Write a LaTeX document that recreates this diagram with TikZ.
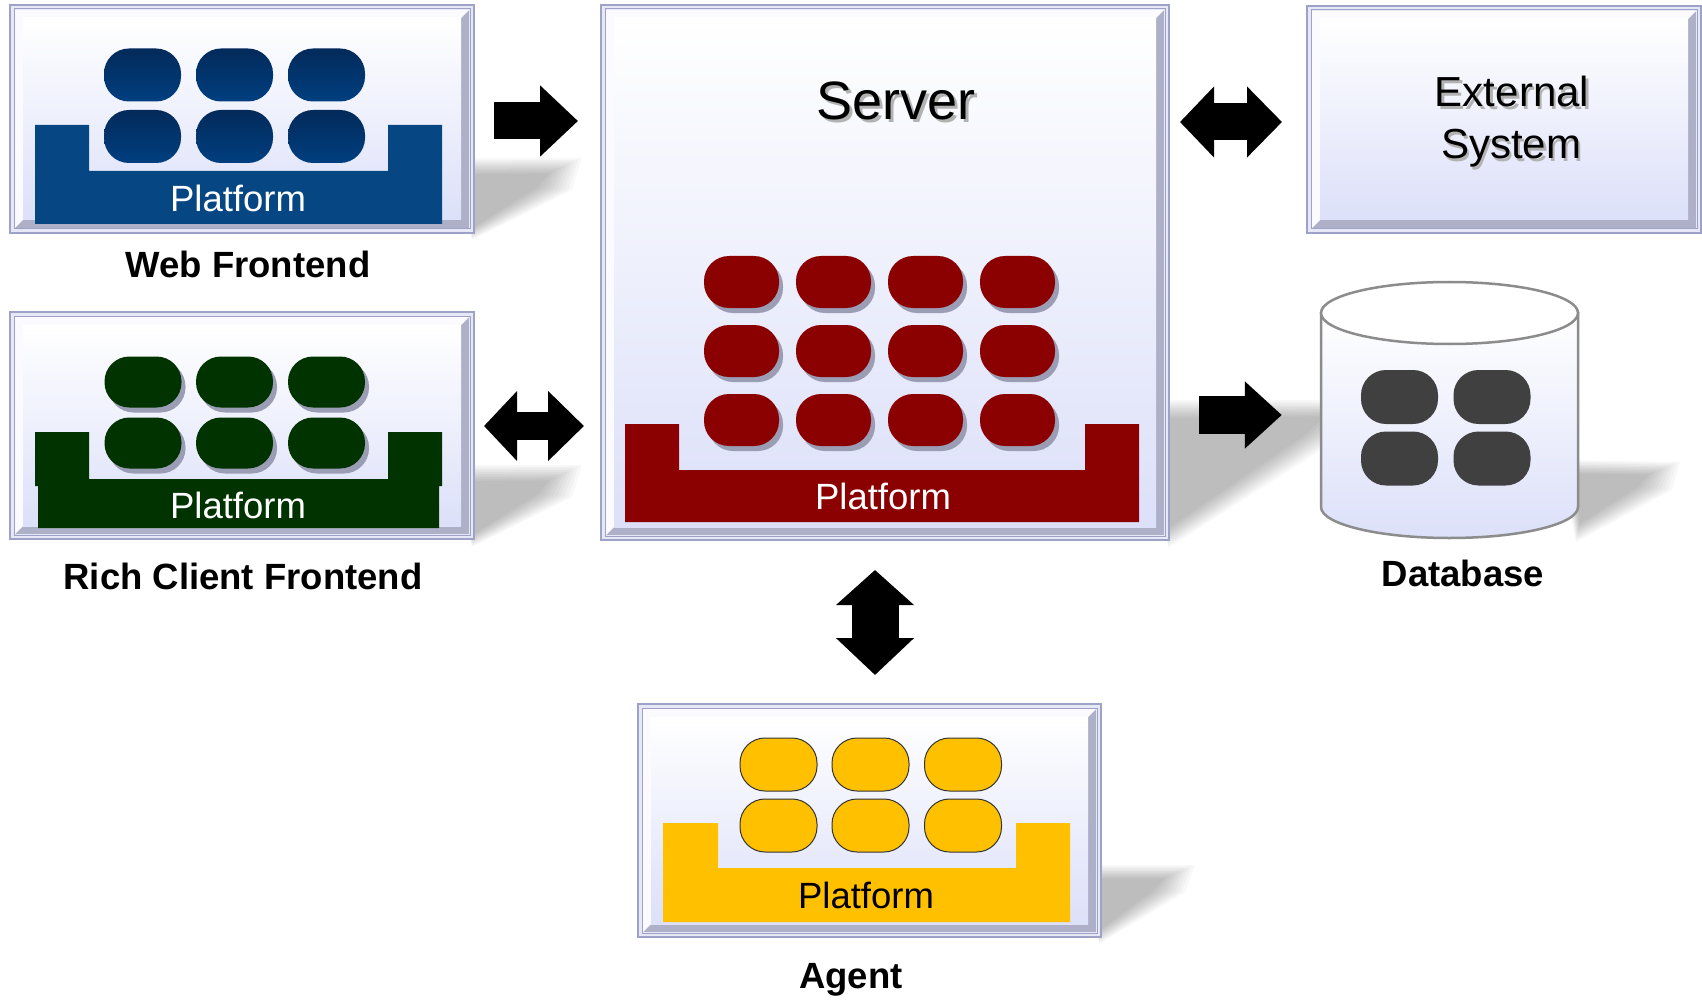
\documentclass[tikz,border=0pt]{standalone}
\usepackage{fontspec}
\setmainfont{Liberation Sans}
\usetikzlibrary{calc,fit,arrows.meta,shadows}
\definecolor{rimc}{HTML}{9EA2C8}
\definecolor{rimfill}{HTML}{E6E8F5}
\definecolor{bevdark}{HTML}{AEB0C8}
\definecolor{bevlight}{HTML}{FAFAFF}
\definecolor{facebot}{HTML}{DCE0F9}
\definecolor{wblue}{HTML}{064682}
\definecolor{wpilltop}{HTML}{032A5A}
\definecolor{wpillbot}{HTML}{003F80}
\definecolor{rgreen}{HTML}{003300}
\definecolor{sred}{HTML}{8B0000}
\definecolor{ayellow}{HTML}{FFC000}
\definecolor{dbgray}{HTML}{404040}
\definecolor{pshadow}{HTML}{9A9DB4}
\definecolor{dbline}{HTML}{8C8C8C}
\newcommand\drawpanel[5]{%
  \node[fit={(#2,#3) (#4,#5)}, inner sep=0pt, outer sep=0pt] (#1) {};
  \draw[rimc, line width=2pt, fill=rimfill] (#2,#3) rectangle (#4,#5);
  \fill[bevdark] ($(#2,#3)+(5,5)$) rectangle ($(#4,#5)+(-5,-5)$);
  \fill[bevlight] ($(#2,#5)+(5,-5)$) -- ($(#2,#3)+(5,5)$) -- ($(#4,#3)+(-5,5)$)
     -- ($(#4,#3)+(-13,13)$) -- ($(#2,#3)+(13,13)$) -- ($(#2,#5)+(13,-13)$) -- cycle;
  \shade[top color=white, bottom color=facebot] ($(#2,#3)+(13,13)$) rectangle ($(#4,#5)+(-13,-13)$);
  \draw[rimc, line width=1pt] ($(#2,#3)+(4,4)$) rectangle ($(#4,#5)+(-4,-4)$);
}
\newcommand\softshadow[8]{%
  \foreach \t in {0,0.1,...,0.91}{%
    \fill[black, opacity=0.028] ($(#1)!\t!(#5)$) -- ($(#2)!\t!(#6)$) -- ($(#3)!\t!(#7)$) -- ($(#4)!\t!(#8)$) -- cycle;
  }%
}
\tikzset{
  pill/.style={rectangle, rounded corners=25pt, minimum width=77pt, minimum height=53pt, inner sep=0pt},
  pshad/.style={drop shadow={shadow xshift=4pt, shadow yshift=-5pt, fill=pshadow, opacity=1}},
  plat/.style={font=\fontsize{36.5}{40}\selectfont, text=white, anchor=base, inner sep=0pt},
  lbl/.style={font=\fontsize{36.5}{40}\selectfont\bfseries, anchor=base, inner sep=0pt},
  blk/.style={black, line cap=butt}
}
\begin{document}
\begin{tikzpicture}[x=1pt,y=-1pt]
\useasboundingbox (0,0) rectangle (1702,1000);
\fill[white] (0,0) rectangle (1702,1000);

% cast shadows
\softshadow{450,158}{582,158}{572,190}{472,240}{465,176}{545,175}{535,186}{474,226}
\softshadow{450,465}{582,465}{572,497}{472,547}{465,483}{545,482}{535,493}{474,533}
\softshadow{1150,400}{1370,400}{1360,425}{1168,548}{1165,420}{1320,418}{1300,435}{1170,525}
\softshadow{1560,460}{1680,462}{1672,490}{1576,542}{1575,475}{1645,476}{1635,486}{1580,522}
\softshadow{1085,865}{1195,865}{1185,892}{1099,944}{1100,880}{1160,880}{1150,890}{1101,928}

% ---------- Web Frontend ----------
\drawpanel{web}{10}{5}{474}{233}
\fill[wblue] (35,125) -- (89,125) -- (89,171) -- (388,171) -- (388,125) -- (442,125) -- (442,224) -- (35,224) -- cycle;
\foreach \x [count=\i] in {142.5,234.5,326.5}
  \foreach \y [count=\j] in {75,136.5}
    \node[pill, top color=wpilltop, bottom color=wpillbot] (wp\i\j) at (\x,\y) {};
\node[plat] (webplat) at (238,212) {Platform};
\node[lbl] (weblbl) at (248,277) {Web Frontend};

% ---------- Rich Client ----------
\drawpanel{rich}{10}{312}{474}{539}
\fill[rgreen] (35,432) -- (89,432) -- (89,479) -- (388,479) -- (388,432) -- (442,432) -- (442,486) -- (439,486) -- (439,528) -- (38,528) -- (38,486) -- (35,486) -- cycle;
\foreach \x [count=\i] in {143,234.5,326.5}
  \foreach \y [count=\j] in {382,443}
    \node[pill, pshad, fill=rgreen, minimum height=51pt] (rp\i\j) at (\x,\y) {};
\node[plat] (richplat) at (238,518) {Platform};
\node[lbl] (richlbl) at (243,589) {Rich Client Frontend};

% ---------- Server ----------
\drawpanel{server}{601}{5}{1169}{540}
\node[anchor=base, inner sep=0pt, text=gray!60, font=\fontsize{54}{60}\selectfont] (servsh) at (899,123) {Server};
\node[anchor=base, inner sep=0pt, font=\fontsize{54}{60}\selectfont] (servlbl) at (896,120) {Server};
\fill[sred] (625,424) -- (679,424) -- (679,470) -- (1085,470) -- (1085,424) -- (1139,424) -- (1139,522) -- (625,522) -- cycle;
\foreach \x [count=\i] in {741.5,833.5,925.5,1017.5}
  \foreach \y [count=\j] in {282,351,420}
    \node[pill, pshad, fill=sred, minimum width=75pt, minimum height=52pt] (sp\i\j) at (\x,\y) {};
\node[plat] (servplat) at (883,509) {Platform};

% ---------- External System ----------
\drawpanel{ext}{1307}{6}{1701}{233}
\node[anchor=base, inner sep=0pt, text=gray!60, font=\fontsize{42}{48}\selectfont] (ext1sh) at (1514.5,109.5) {External};
\node[anchor=base, inner sep=0pt, font=\fontsize{42}{48}\selectfont] (ext1) at (1512,107) {External};
\node[anchor=base, inner sep=0pt, text=gray!60, font=\fontsize{42}{48}\selectfont] (ext2sh) at (1513.5,161.5) {System};
\node[anchor=base, inner sep=0pt, font=\fontsize{42}{48}\selectfont] (ext2) at (1511,159) {System};

% ---------- Database ----------
\node[fit={(1321,282) (1578,538)}, inner sep=0pt] (db) {};
\shadedraw[top color=white, bottom color=facebot, draw=dbline, line width=2.5pt]
  (1321,313) -- (1321,507) arc[start angle=180, end angle=0, x radius=128.5, y radius=31] -- (1578,313) -- cycle;
\filldraw[fill=white, draw=dbline, line width=2.5pt] (1449.5,313) ellipse [x radius=128.5, y radius=31];
\foreach \x [count=\i] in {1399.5,1492}
  \foreach \y [count=\j] in {397,458.5}
    \node[pill, fill=dbgray, minimum height=54pt] (dp\i\j) at (\x,\y) {};
\node[lbl] (dblbl) at (1463,586) {Database};

% ---------- Agent ----------
\drawpanel{agent}{638}{704}{1101}{937}
\fill[ayellow] (663,823) -- (718,823) -- (718,868) -- (1016,868) -- (1016,823) -- (1070,823) -- (1070,922) -- (663,922) -- cycle;
\foreach \x [count=\i] in {778.5,870.5,963}
  \foreach \y [count=\j] in {764.5,825.5}
    \node[pill, fill=ayellow, draw=black!80, line width=1pt] (ap\i\j) at (\x,\y) {};
\node[plat, text=black] (agplat) at (866,908) {Platform};
\node[lbl] (aglbl) at (851,988) {Agent};

% ---------- Arrows ----------
\draw[blk, line width=37pt, -{Triangle[length=38pt,width=69pt]}]
  ($(web.east)+(20,2)$) -- ($(server.west |- web.east)+(-23,2)$);
\draw[blk, line width=28pt, {Triangle[length=33pt,width=68pt]}-{Triangle[length=36pt,width=68pt]}]
  ($(rich.east)+(10,0.5)$) -- ($(server.west |- rich.east)+(-17,0.5)$);
\draw[blk, line width=37pt, {Triangle[length=34pt,width=69pt]}-{Triangle[length=35pt,width=69pt]}]
  ($(server.east |- ext.west)+(11,2.5)$) -- ($(ext.west)+(-25,2.5)$);
\draw[blk, line width=38pt, -{Triangle[length=37pt,width=65pt]}]
  ($(server.east |- db.west)+(30,5)$) -- ($(db.west)+(-39,5)$);
\draw[blk, line width=47pt, {Triangle[length=35pt,width=76pt]}-{Triangle[length=37pt,width=76pt]}]
  ($(server.south)+(-10,30)$) -- ($(server.south |- agent.north)+(-10,-29)$);
\end{tikzpicture}
\end{document}
